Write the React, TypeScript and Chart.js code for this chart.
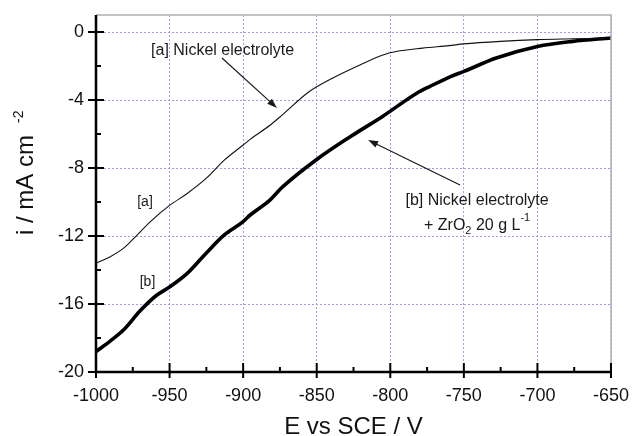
import { useEffect, useRef } from "react";
import { Chart, registerables } from "chart.js";

Chart.register(...registerables);

// ---- data ----
const potentialA = [-1000, -990, -981, -975, -963, -950, -938, -925, -913, -900, -895, -882, -875, -855, -839, -821, -805, -796, -778, -760, -750, -725, -700, -675, -650];
const currentA = [-13.6, -13.2, -12.7, -12.2, -11.15, -10.2, -9.5, -8.6, -7.55, -6.65, -6.3, -5.5, -5.0, -3.5, -2.7, -1.95, -1.35, -1.15, -0.95, -0.8, -0.7, -0.55, -0.45, -0.4, -0.35];

const potentialB = [-1000, -990, -981, -970, -959, -950, -938, -925, -913, -900, -895, -882, -873, -850, -827, -805, -782, -773, -759, -750, -728, -700, -676, -650];
const currentB = [-18.8, -18.15, -17.5, -16.4, -15.5, -15.0, -14.2, -13.0, -11.95, -11.15, -10.75, -9.9, -9.1, -7.5, -6.15, -4.95, -3.6, -3.2, -2.62, -2.32, -1.53, -0.85, -0.55, -0.35];

const xTicks = [-1000, -950, -900, -850, -800, -750, -700, -650];
const xMinorTicks = [-975, -925, -875, -825, -775, -725, -675];
const yTicks = [-20, -16, -12, -8, -4, 0];
const yMinorTicks = [-18, -14, -10, -6, -2];

const xTitle = "E vs SCE / V";
const yTitle = "i / mA cm";
const yTitleSup = "-2";
const labelA = "[a] Nickel electrolyte";
const labelB1 = "[b] Nickel electrolyte";
const shortA = "[a]";
const shortB = "[b]";

const FONT = '"Liberation Sans", Arial, Helvetica, sans-serif';

function arrow(ctx: CanvasRenderingContext2D, x1: number, y1: number, x2: number, y2: number) {
  const ang = Math.atan2(y2 - y1, x2 - x1);
  const len = 10;
  const hw = 3.5;
  ctx.beginPath();
  ctx.moveTo(x1, y1);
  ctx.lineTo(x2 - Math.cos(ang) * len * 0.8, y2 - Math.sin(ang) * len * 0.8);
  ctx.stroke();
  ctx.beginPath();
  ctx.moveTo(x2, y2);
  ctx.lineTo(x2 - Math.cos(ang) * len + Math.sin(ang) * hw, y2 - Math.sin(ang) * len - Math.cos(ang) * hw);
  ctx.lineTo(x2 - Math.cos(ang) * len - Math.sin(ang) * hw, y2 - Math.sin(ang) * len + Math.cos(ang) * hw);
  ctx.closePath();
  ctx.fill();
}

const decor = {
  id: "decor",
  afterDatasetsDraw(chart: any) {
    const { ctx, chartArea: ca, scales } = chart;
    const x = scales.x;
    const y = scales.y;
    const X = (v: number) => x.getPixelForValue(v);
    const Y = (v: number) => y.getPixelForValue(v);
    ctx.save();
    // grey frame top/right
    ctx.strokeStyle = "#b0b0b0";
    ctx.lineWidth = 1.5;
    ctx.beginPath();
    ctx.moveTo(ca.left, ca.top);
    ctx.lineTo(ca.right, ca.top);
    ctx.lineTo(ca.right, ca.bottom);
    ctx.stroke();
    // black axes
    ctx.strokeStyle = "#000";
    ctx.lineWidth = 2.5;
    ctx.beginPath();
    ctx.moveTo(ca.left, ca.top);
    ctx.lineTo(ca.left, ca.bottom);
    ctx.lineTo(ca.right + 1, ca.bottom);
    ctx.stroke();
    // ticks
    ctx.lineWidth = 2;
    ctx.beginPath();
    xTicks.forEach((v) => {
      const p = X(v);
      ctx.moveTo(p, ca.bottom - 9);
      ctx.lineTo(p, ca.bottom + 6);
    });
    xMinorTicks.forEach((v) => {
      const p = X(v);
      ctx.moveTo(p, ca.bottom - 5);
      ctx.lineTo(p, ca.bottom);
    });
    yTicks.forEach((v) => {
      const p = Y(v);
      ctx.moveTo(ca.left - 8, p);
      ctx.lineTo(ca.left + 8, p);
    });
    yMinorTicks.forEach((v) => {
      const p = Y(v);
      ctx.moveTo(ca.left, p);
      ctx.lineTo(ca.left + 5, p);
    });
    ctx.stroke();

    // axis titles
    ctx.fillStyle = "#111";
    ctx.font = `24px ${FONT}`;
    ctx.textAlign = "center";
    ctx.textBaseline = "alphabetic";
    ctx.fillText(xTitle, (ca.left + ca.right) / 2, 434);

    ctx.save();
    ctx.translate(33, 185);
    ctx.rotate(-Math.PI / 2);
    ctx.font = `24px ${FONT}`;
    ctx.textAlign = "center";
    ctx.fillText(yTitle, 0, 0);
    const w = ctx.measureText(yTitle).width;
    ctx.font = `14px ${FONT}`;
    ctx.textAlign = "left";
    ctx.fillText(yTitleSup, w / 2 + 12, -10);
    ctx.restore();

    // annotations
    ctx.fillStyle = "#1a1a1a";
    ctx.strokeStyle = "#1a1a1a";
    ctx.lineWidth = 1.2;
    ctx.font = `16px ${FONT}`;
    ctx.textAlign = "left";
    ctx.fillText(labelA, X(-962.6), Y(-1.35));
    arrow(ctx, X(-914.4), Y(-1.53), X(-877), Y(-4.47));

    ctx.textAlign = "center";
    ctx.fillText(labelB1, X(-741), Y(-10.18));
    const segs = [
      { t: "+ ZrO", s: 16, dy: 0 },
      { t: "2", s: 11, dy: 4 },
      { t: " 20 g L", s: 16, dy: 0 },
      { t: "-1", s: 11, dy: -9 },
    ];
    let total = 0;
    segs.forEach((sg) => {
      ctx.font = `${sg.s}px ${FONT}`;
      total += ctx.measureText(sg.t).width;
    });
    let cx = X(-741) - total / 2;
    const by = Y(-11.65);
    ctx.textAlign = "left";
    segs.forEach((sg) => {
      ctx.font = `${sg.s}px ${FONT}`;
      ctx.fillText(sg.t, cx, by + sg.dy);
      cx += ctx.measureText(sg.t).width;
    });
    arrow(ctx, X(-752.6), Y(-9.0), X(-815.1), Y(-6.35));

    ctx.font = `14px ${FONT}`;
    ctx.textAlign = "center";
    ctx.fillText(shortA, X(-966.7), Y(-10.24));
    ctx.fillText(shortB, X(-965), Y(-14.94));
    ctx.restore();
  },
};

export default function App() {
  const ref = useRef<HTMLCanvasElement | null>(null);
  useEffect(() => {
    if (!ref.current) return;
    const chart = new Chart(ref.current, {
      type: "scatter",
      data: {
        datasets: [
          {
            label: "[a] Nickel electrolyte",
            data: potentialA.map((v, i) => ({ x: v, y: currentA[i] })),
            showLine: true,
            borderColor: "#111",
            borderWidth: 1.1,
            pointRadius: 0,
            cubicInterpolationMode: "monotone",
          },
          {
            label: "[b] Nickel electrolyte + ZrO2 20 g L-1",
            data: potentialB.map((v, i) => ({ x: v, y: currentB[i] })),
            showLine: true,
            borderColor: "#000",
            borderWidth: 3.6,
            pointRadius: 0,
            cubicInterpolationMode: "monotone",
          },
        ],
      },
      options: {
        animation: false,
        responsive: false,
        maintainAspectRatio: false,
        layout: { padding: { top: 15, right: 22, left: 0, bottom: 0 } },
        plugins: { legend: { display: false }, tooltip: { enabled: false } },
        scales: {
          x: {
            type: "linear",
            min: -1000,
            max: -650,
            afterBuildTicks: (s: any) => {
              s.ticks = xTicks.map((v) => ({ value: v }));
            },
            afterFit: (s: any) => {
              s.height = 64;
              s.paddingLeft = 0;
              s.paddingRight = 0;
            },
            grid: { color: "#9c9cf2", lineWidth: 1, drawTicks: false },
            border: { display: false, dash: [2, 2] },
            ticks: {
              font: { family: FONT, size: 18 },
              color: "#111",
              padding: 13,
              maxRotation: 0,
              autoSkip: false,
              callback: (v: any) => String(v),
            },
          },
          y: {
            type: "linear",
            min: -20,
            max: 1,
            afterBuildTicks: (s: any) => {
              s.ticks = yTicks.map((v) => ({ value: v }));
            },
            afterFit: (s: any) => {
              s.width = 96;
              s.paddingTop = 0;
              s.paddingBottom = 0;
            },
            grid: { color: "#9c9cf2", lineWidth: 1, drawTicks: false },
            border: { display: false, dash: [2, 2] },
            ticks: {
              font: { family: FONT, size: 18 },
              color: "#111",
              padding: 12,
              autoSkip: false,
              callback: (v: any) => String(v),
            },
          },
        },
      },
      plugins: [decor],
    } as any);
    return () => chart.destroy();
  }, []);
  return (
    <div style={{ position: "absolute", left: 0, top: 0, width: 633, height: 436, background: "#fff" }}>
      <canvas ref={ref} width={633} height={436} style={{ display: "block" }} />
    </div>
  );
}
